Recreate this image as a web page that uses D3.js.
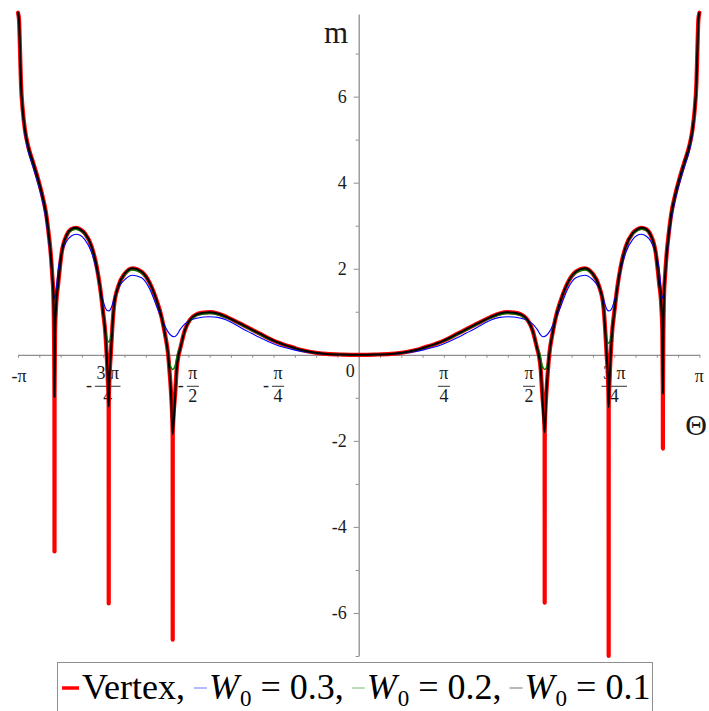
<!DOCTYPE html>
<html>
<head>
<meta charset="utf-8">
<script src="https://cdn.jsdelivr.net/npm/d3@7"></script>
<style>
  body { margin: 0; background: #fff; }
  svg { display: block; }
  svg text { font-family: "Liberation Serif", "DejaVu Serif", serif !important; }
</style>
</head>
<body>
<svg id="chart" width="709" height="711"></svg>
<script>
// ---- data: m(Θ), Θ in radians ----
const vertexPts = [
  [-3.1416,7.95],[-3.132,7.78],[-3.123,7.08],[-3.114,6.31],[-3.098,5.69],[-3.077,5.22],[-3.047,4.84],
  [-3.000,4.45],[-2.954,4.06],[-2.914,3.67],[-2.883,3.29],[-2.859,2.82],[-2.840,2.36],[-2.825,1.82],
  [-2.816,1.43],[-2.8095,0.50],[-2.8055,-0.98],[-2.805,-4.57],[-2.8045,-0.98],[-2.800,0.50],[-2.791,1.10],
  [-2.770,1.67],[-2.739,2.37],[-2.693,2.78],[-2.650,2.92],[-2.607,2.95],[-2.565,2.91],[-2.524,2.82],
  [-2.462,2.51],[-2.416,2.05],[-2.386,1.59],[-2.356,0.97],[-2.336,0.50],[-2.324,0.00],[-2.313,-0.60],
  [-2.3055,-1.20],[-2.305,-5.78],[-2.3045,-1.20],[-2.299,-0.60],[-2.286,0.00],[-2.275,0.50],[-2.257,1.12],
  [-2.217,1.59],[-2.156,1.89],[-2.085,2.01],[-2.002,1.93],[-1.925,1.66],[-1.864,1.27],[-1.818,0.88],
  [-1.787,0.49],[-1.757,0.00],[-1.745,-0.36],[-1.732,-0.82],[-1.7155,-1.84],[-1.715,-6.62],[-1.7145,-1.84],
  [-1.690,-0.82],[-1.679,-0.36],[-1.660,0.00],[-1.649,0.11],[-1.603,0.57],[-1.557,0.81],[-1.495,0.94],
  [-1.430,0.98],[-1.373,0.99],[-1.300,0.96],[-1.219,0.88],[-1.143,0.79],[-1.066,0.69],[-0.989,0.59],
  [-0.912,0.49],[-0.835,0.39],[-0.758,0.30],[-0.682,0.23],[-0.605,0.17],[-0.528,0.11],[-0.451,0.07],
  [-0.375,0.04],[-0.298,0.02],[-0.150,0.005],[0,0],
  [0.150,0.005],[0.298,0.02],[0.375,0.04],[0.451,0.07],[0.528,0.11],[0.605,0.17],[0.682,0.23],
  [0.758,0.30],[0.835,0.39],[0.912,0.49],[0.989,0.59],[1.066,0.69],[1.143,0.79],[1.219,0.88],
  [1.300,0.96],[1.373,0.99],[1.430,0.98],[1.495,0.94],[1.557,0.81],[1.603,0.57],[1.649,0.11],
  [1.660,0.00],[1.679,-0.36],[1.690,-0.82],[1.7145,-1.80],[1.715,-5.76],[1.7155,-1.80],[1.732,-0.82],
  [1.745,-0.36],[1.757,0.00],[1.787,0.49],[1.818,0.88],[1.864,1.27],[1.925,1.66],[2.002,1.93],
  [2.085,2.01],[2.156,1.89],[2.217,1.59],[2.257,1.12],[2.275,0.50],[2.286,0.00],[2.299,-0.60],
  [2.3045,-1.22],[2.305,-7.00],[2.3055,-1.22],[2.313,-0.60],[2.324,0.00],[2.336,0.50],[2.356,0.97],
  [2.386,1.59],[2.416,2.05],[2.462,2.51],[2.524,2.82],[2.565,2.91],[2.607,2.95],[2.650,2.92],
  [2.693,2.78],[2.739,2.37],[2.770,1.67],[2.791,1.10],[2.800,0.50],[2.8045,-0.90],[2.805,-2.18],
  [2.8055,-0.90],[2.8095,0.50],[2.816,1.43],[2.825,1.82],[2.840,2.36],[2.859,2.82],[2.883,3.29],
  [2.914,3.67],[2.954,4.06],[3.000,4.45],[3.047,4.84],[3.077,5.22],[3.098,5.69],[3.114,6.31],
  [3.123,7.08],[3.132,7.78],[3.1416,7.95]
];

const w03Pts = [
  [-3.1416,7.95],[-3.132,7.74],[-3.123,7.00],[-3.114,6.22],[-3.098,5.58],[-3.077,5.10],[-3.047,4.72],
  [-3.000,4.34],[-2.954,3.95],[-2.914,3.55],[-2.883,3.13],[-2.859,2.66],[-2.840,2.20],[-2.825,1.76],
  [-2.815,1.48],[-2.808,1.35],[-2.802,1.31],[-2.795,1.38],[-2.785,1.62],[-2.770,2.00],[-2.739,2.36],
  [-2.693,2.64],[-2.650,2.76],[-2.607,2.80],[-2.565,2.77],[-2.524,2.67],[-2.462,2.37],[-2.416,1.95],
  [-2.386,1.55],[-2.356,1.24],[-2.336,1.09],[-2.320,1.03],[-2.305,1.02],[-2.290,1.05],[-2.275,1.14],
  [-2.257,1.30],[-2.217,1.55],[-2.156,1.75],[-2.085,1.85],[-2.002,1.79],[-1.925,1.52],[-1.864,1.13],
  [-1.818,0.85],[-1.787,0.67],[-1.762,0.55],[-1.735,0.46],[-1.700,0.42],[-1.675,0.47],[-1.649,0.58],
  [-1.603,0.72],[-1.557,0.80],[-1.495,0.85],[-1.430,0.88],[-1.373,0.885],[-1.300,0.87],[-1.219,0.81],
  [-1.143,0.71],[-1.066,0.60],[-0.989,0.50],[-0.912,0.40],[-0.835,0.31],[-0.758,0.23],[-0.682,0.17],
  [-0.605,0.12],[-0.528,0.08],[-0.451,0.05],[-0.375,0.025],[-0.298,0.012],[-0.150,0.003],[0,0],
  [0.150,0.003],[0.298,0.012],[0.375,0.025],[0.451,0.05],[0.528,0.08],[0.605,0.12],[0.682,0.17],
  [0.758,0.23],[0.835,0.31],[0.912,0.40],[0.989,0.50],[1.066,0.60],[1.143,0.71],[1.219,0.81],
  [1.300,0.87],[1.373,0.885],[1.430,0.88],[1.495,0.85],[1.557,0.80],[1.603,0.72],[1.649,0.58],
  [1.675,0.47],[1.700,0.42],[1.735,0.46],[1.762,0.55],[1.787,0.67],[1.818,0.85],[1.864,1.13],
  [1.925,1.52],[2.002,1.79],[2.085,1.85],[2.156,1.75],[2.217,1.55],[2.257,1.30],[2.275,1.14],
  [2.290,1.05],[2.305,1.02],[2.320,1.03],[2.336,1.09],[2.356,1.24],[2.386,1.55],[2.416,1.95],
  [2.462,2.37],[2.524,2.67],[2.565,2.77],[2.607,2.80],[2.650,2.76],[2.693,2.64],[2.739,2.36],
  [2.770,2.00],[2.785,1.62],[2.795,1.38],[2.802,1.31],[2.808,1.35],[2.815,1.48],[2.825,1.76],
  [2.840,2.20],[2.859,2.66],[2.883,3.13],[2.914,3.55],[2.954,3.95],[3.000,4.34],[3.047,4.72],
  [3.077,5.10],[3.098,5.58],[3.114,6.22],[3.123,7.00],[3.132,7.74],[3.1416,7.95]
];

const w02Pts = [
  [-3.1416,7.95],[-3.132,7.77],[-3.123,7.06],[-3.114,6.29],[-3.098,5.67],[-3.077,5.20],[-3.047,4.82],
  [-3.000,4.43],[-2.954,4.04],[-2.914,3.65],[-2.883,3.26],[-2.859,2.79],[-2.840,2.33],[-2.825,1.80],
  [-2.816,1.40],[-2.810,0.95],[-2.805,0.72],[-2.800,0.90],[-2.791,1.18],[-2.770,1.68],[-2.739,2.36],
  [-2.693,2.76],[-2.650,2.89],[-2.607,2.92],[-2.565,2.88],[-2.524,2.79],[-2.462,2.49],[-2.416,2.03],
  [-2.386,1.57],[-2.356,0.97],[-2.336,0.58],[-2.320,0.36],[-2.305,0.30],[-2.290,0.36],[-2.275,0.60],
  [-2.257,1.12],[-2.217,1.58],[-2.156,1.86],[-2.085,1.97],[-2.002,1.90],[-1.925,1.64],[-1.864,1.26],
  [-1.818,0.88],[-1.787,0.49],[-1.757,0.00],[-1.738,-0.25],[-1.715,-0.34],[-1.692,-0.25],[-1.672,0.00],
  [-1.649,0.16],[-1.603,0.56],[-1.557,0.79],[-1.495,0.91],[-1.430,0.95],[-1.373,0.96],[-1.300,0.93],
  [-1.219,0.86],[-1.143,0.77],[-1.066,0.67],[-0.989,0.57],[-0.912,0.47],[-0.835,0.37],[-0.758,0.29],
  [-0.682,0.22],[-0.605,0.16],[-0.528,0.105],[-0.451,0.065],[-0.375,0.035],[-0.298,0.018],[-0.150,0.004],[0,0],
  [0.150,0.004],[0.298,0.018],[0.375,0.035],[0.451,0.065],[0.528,0.105],[0.605,0.16],[0.682,0.22],
  [0.758,0.29],[0.835,0.37],[0.912,0.47],[0.989,0.57],[1.066,0.67],[1.143,0.77],[1.219,0.86],
  [1.300,0.93],[1.373,0.96],[1.430,0.95],[1.495,0.91],[1.557,0.79],[1.603,0.56],[1.649,0.16],
  [1.672,0.00],[1.692,-0.25],[1.715,-0.34],[1.738,-0.25],[1.757,0.00],[1.787,0.49],[1.818,0.88],
  [1.864,1.26],[1.925,1.64],[2.002,1.90],[2.085,1.97],[2.156,1.86],[2.217,1.58],[2.257,1.12],
  [2.275,0.58],[2.290,0.33],[2.305,0.27],[2.320,0.33],[2.336,0.56],[2.356,0.97],[2.386,1.57],
  [2.416,2.03],[2.462,2.49],[2.524,2.79],[2.565,2.88],[2.607,2.92],[2.650,2.89],[2.693,2.76],
  [2.739,2.36],[2.770,1.68],[2.791,1.18],[2.800,0.85],[2.805,0.61],[2.810,0.90],[2.816,1.40],
  [2.825,1.80],[2.840,2.33],[2.859,2.79],[2.883,3.26],[2.914,3.65],[2.954,4.04],[3.000,4.43],
  [3.047,4.82],[3.077,5.20],[3.098,5.67],[3.114,6.29],[3.123,7.06],[3.132,7.77],[3.1416,7.95]
];

const w01Pts = [
  [-3.1416,7.95],[-3.132,7.78],[-3.123,7.08],[-3.114,6.31],[-3.098,5.69],[-3.077,5.22],[-3.047,4.84],
  [-3.000,4.45],[-2.954,4.06],[-2.914,3.67],[-2.883,3.29],[-2.859,2.82],[-2.840,2.36],[-2.825,1.82],
  [-2.816,1.43],[-2.8095,0.50],[-2.805,-0.98],[-2.800,0.50],[-2.791,1.10],
  [-2.770,1.67],[-2.739,2.37],[-2.693,2.78],[-2.650,2.92],[-2.607,2.95],[-2.565,2.91],[-2.524,2.82],
  [-2.462,2.51],[-2.416,2.05],[-2.386,1.59],[-2.356,0.97],[-2.336,0.50],[-2.324,0.00],[-2.313,-0.60],
  [-2.305,-1.20],[-2.299,-0.60],[-2.286,0.00],[-2.275,0.50],[-2.257,1.12],
  [-2.217,1.59],[-2.156,1.89],[-2.085,2.01],[-2.002,1.93],[-1.925,1.66],[-1.864,1.27],[-1.818,0.88],
  [-1.787,0.49],[-1.757,0.00],[-1.745,-0.36],[-1.732,-0.82],[-1.715,-1.84],
  [-1.690,-0.82],[-1.679,-0.36],[-1.660,0.00],[-1.649,0.11],[-1.603,0.57],[-1.557,0.81],[-1.495,0.94],
  [-1.430,0.98],[-1.373,0.99],[-1.300,0.96],[-1.219,0.88],[-1.143,0.79],[-1.066,0.69],[-0.989,0.59],
  [-0.912,0.49],[-0.835,0.39],[-0.758,0.30],[-0.682,0.23],[-0.605,0.17],[-0.528,0.11],[-0.451,0.07],
  [-0.375,0.04],[-0.298,0.02],[-0.150,0.005],[0,0],
  [0.150,0.005],[0.298,0.02],[0.375,0.04],[0.451,0.07],[0.528,0.11],[0.605,0.17],[0.682,0.23],
  [0.758,0.30],[0.835,0.39],[0.912,0.49],[0.989,0.59],[1.066,0.69],[1.143,0.79],[1.219,0.88],
  [1.300,0.96],[1.373,0.99],[1.430,0.98],[1.495,0.94],[1.557,0.81],[1.603,0.57],[1.649,0.11],
  [1.660,0.00],[1.679,-0.36],[1.690,-0.82],[1.715,-1.80],[1.732,-0.82],
  [1.745,-0.36],[1.757,0.00],[1.787,0.49],[1.818,0.88],[1.864,1.27],[1.925,1.66],[2.002,1.93],
  [2.085,2.01],[2.156,1.89],[2.217,1.59],[2.257,1.12],[2.275,0.50],[2.286,0.00],[2.299,-0.60],
  [2.305,-1.22],[2.313,-0.60],[2.324,0.00],[2.336,0.50],[2.356,0.97],
  [2.386,1.59],[2.416,2.05],[2.462,2.51],[2.524,2.82],[2.565,2.91],[2.607,2.95],[2.650,2.92],
  [2.693,2.78],[2.739,2.37],[2.770,1.67],[2.791,1.10],[2.800,0.50],[2.805,-0.90],
  [2.8095,0.50],[2.816,1.43],[2.825,1.82],[2.840,2.36],[2.859,2.82],[2.883,3.29],
  [2.914,3.67],[2.954,4.06],[3.000,4.45],[3.047,4.84],[3.077,5.22],[3.098,5.69],[3.114,6.31],
  [3.123,7.08],[3.132,7.78],[3.1416,7.95]
];

const seriesNames = ["Vertex", "W0 = 0.3", "W0 = 0.2", "W0 = 0.1"];
const seriesLegendValues = [null, "0.3", "0.2", "0.1"];

// axis ticks: Θ in multiples of π, m in plain units
const xLabelMultiples = [-1, -0.75, -0.5, -0.25, 0.25, 0.5, 0.75, 1];
const xLabelNum = ["π", "3 π", "π", "π", "π", "π", "3 π", "π"];
const xLabelDen = ["", "4", "2", "4", "4", "2", "4", ""];
const yMajorTicks = [-6, -4, -2, 2, 4, 6];
const yMinorTicks = [-7, -5, -3, -1, 1, 3, 5, 7];

// ---- drawing ----
const FONT = "Liberation Serif";
const TICK_FONT = 18;
const svg = d3.select("#chart");
const x = d3.scaleLinear().domain([-Math.PI, Math.PI]).range([18, 699.4]);
const y = d3.scaleLinear().domain([-7, 7.92]).range([656, 14]);
const axisColor = "#8e8e8e";
const labelColor = "#1a1a1a";

// horizontal Θ axis through m = 0, minor ticks every π/16
const xTicks = d3.range(-16, 17).map(k => k * Math.PI / 16);
const gx = svg.append("g")
  .attr("transform", `translate(0,${y(0)})`)
  .call(d3.axisBottom(x).tickValues(xTicks).tickSize(3).tickSizeOuter(0).tickFormat(""));
gx.select(".domain").attr("stroke", axisColor).attr("stroke-width", 1.3);
gx.selectAll(".tick line").attr("stroke", axisColor);

// vertical m axis through Θ = 0
const gyMinor = svg.append("g")
  .attr("transform", `translate(${x(0)},0)`)
  .call(d3.axisLeft(y).tickValues(yMinorTicks).tickSize(3).tickSizeOuter(0).tickFormat(""));
gyMinor.select(".domain").attr("stroke", axisColor).attr("stroke-width", 1.3);
gyMinor.selectAll(".tick line").attr("stroke", axisColor);

const gyMajor = svg.append("g")
  .attr("transform", `translate(${x(0)},0)`)
  .call(d3.axisLeft(y).tickValues(yMajorTicks).tickSize(5).tickSizeOuter(0).tickPadding(7)
    .tickFormat(d => (d < 0 ? "-" + (-d) : String(d))));
gyMajor.attr("font-family", FONT).attr("font-size", TICK_FONT);
gyMajor.select(".domain").remove();
gyMajor.selectAll(".tick line").attr("stroke", axisColor);
gyMajor.selectAll(".tick text").attr("fill", labelColor);

// origin label
svg.append("text").attr("x", x(0) - 4).attr("y", y(0) + 22)
  .attr("font-family", FONT).attr("text-anchor", "end").attr("font-size", TICK_FONT)
  .attr("fill", labelColor).text("0");

// Θ tick labels written as fractions of π
const xLab = svg.append("g").attr("font-family", FONT).attr("font-size", TICK_FONT).attr("fill", labelColor);
xLabelMultiples.forEach((k, i) => {
  const cx = x(k * Math.PI);
  const g = xLab.append("g");
  const neg = k < 0;
  if (!xLabelDen[i]) {
    g.append("text").attr("x", cx + (neg ? 1 : 0)).attr("y", y(0) + 27)
      .attr("text-anchor", "middle").text((neg ? "-" : "") + xLabelNum[i]);
    return;
  }
  const num = g.append("text").attr("y", y(0) + 24).attr("text-anchor", "middle").text(xLabelNum[i]);
  const den = g.append("text").attr("y", y(0) + 47).attr("text-anchor", "middle").text(xLabelDen[i]);
  const fw = Math.max(num.node().getComputedTextLength(), den.node().getComputedTextLength()) + 3;
  let minusW = 0, gap = 0;
  let minus = null;
  if (neg) {
    minus = g.append("text").attr("y", y(0) + 36).attr("text-anchor", "start").text("-");
    minusW = minus.node().getComputedTextLength();
    gap = 3;
  }
  const total = minusW + gap + fw;
  const left = cx - total / 2;
  const fc = left + minusW + gap + fw / 2;
  if (minus) minus.attr("x", left);
  num.attr("x", fc);
  den.attr("x", fc);
  g.append("line").attr("x1", fc - fw / 2).attr("x2", fc + fw / 2)
    .attr("y1", y(0) + 31.5).attr("y2", y(0) + 31.5)
    .attr("stroke", labelColor).attr("stroke-width", 0.9);
});

// axis titles
svg.append("text").attr("x", 336).attr("y", 43).attr("text-anchor", "middle")
  .attr("font-family", FONT).attr("font-size", 31).attr("fill", labelColor).text("m");
svg.append("text").attr("x", 696).attr("y", 435).attr("text-anchor", "middle")
  .attr("font-family", FONT).attr("font-size", 30).attr("fill", labelColor).text("Θ");

// curves
const line = d3.line().x(d => x(d[0])).y(d => y(d[1])).curve(d3.curveMonotoneX);
const series = [
  { pts: vertexPts, color: "#ff0000", width: 4.2 },
  { pts: w03Pts, color: "#0000ff", width: 1.1 },
  { pts: w02Pts, color: "#008000", width: 1.5 },
  { pts: w01Pts, color: "#000000", width: 2 }
];
svg.append("g").selectAll("path").data(series).join("path")
  .attr("d", s => line(s.pts))
  .attr("fill", "none")
  .attr("stroke", s => s.color)
  .attr("stroke-width", s => s.width)
  .attr("stroke-linejoin", "round")
  .attr("stroke-linecap", "round");

// legend
const legend = svg.append("g").attr("font-family", FONT);
legend.append("rect").attr("x", 57.5).attr("y", 662.5).attr("width", 595).attr("height", 70)
  .attr("fill", "#fff").attr("stroke", axisColor).attr("stroke-width", 1);
const legFont = 36, baseY = 699;
let cursor = 62;
series.forEach((s, i) => {
  const thick = i === 0;
  legend.append("line").attr("x1", cursor).attr("x2", cursor + (thick ? 17 : 13))
    .attr("y1", 688).attr("y2", 688)
    .attr("stroke", s.color).attr("stroke-width", thick ? 3.5 : 1).attr("opacity", thick ? 1 : 0.55);
  cursor += (thick ? 20 : 15);
  const t = legend.append("text").attr("x", cursor).attr("y", baseY)
    .attr("font-size", legFont).attr("fill", "#000");
  const last = i === series.length - 1;
  if (i === 0) {
    t.text(seriesNames[0] + ",");
  } else {
    t.append("tspan").attr("font-style", "italic").text("W");
    t.append("tspan").attr("font-size", 23).attr("dy", 7).attr("dx", 1).text("0");
    t.append("tspan").attr("dy", -7).text(" = " + seriesLegendValues[i] + (last ? "" : ","));
  }
  cursor += t.node().getComputedTextLength() + 9;
});
</script>
</body>
</html>
